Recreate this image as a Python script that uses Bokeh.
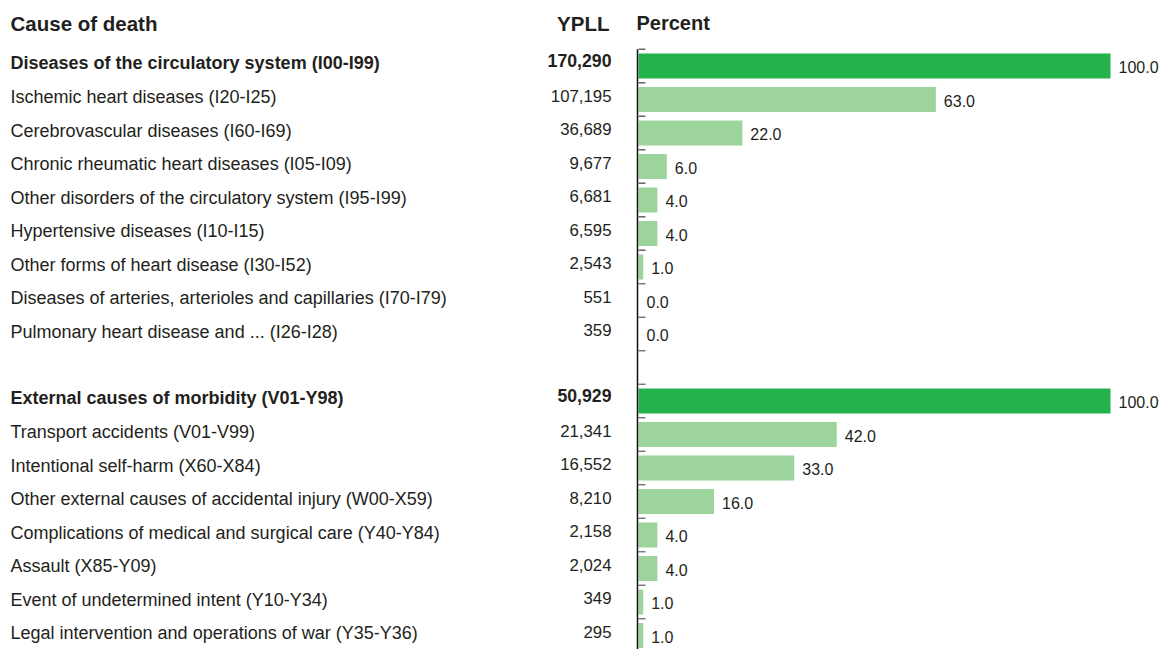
from bokeh.plotting import figure
from bokeh.models import Range1d, ColumnDataSource
from bokeh.core.properties import value
from bokeh.embed import file_html
from bokeh.resources import INLINE

# ---- data ----
header_cause = "Cause of death"
header_ypll = "YPLL"
header_pct = "Percent"

circ_causes = [
    "Diseases of the circulatory system (I00-I99)",
    "Ischemic heart diseases (I20-I25)",
    "Cerebrovascular diseases (I60-I69)",
    "Chronic rheumatic heart diseases (I05-I09)",
    "Other disorders of the circulatory system (I95-I99)",
    "Hypertensive diseases (I10-I15)",
    "Other forms of heart disease (I30-I52)",
    "Diseases of arteries, arterioles and capillaries (I70-I79)",
    "Pulmonary heart disease and ... (I26-I28)",
]
circ_ypll = [170290, 107195, 36689, 9677, 6681, 6595, 2543, 551, 359]
circ_pct = [100.0, 63.0, 22.0, 6.0, 4.0, 4.0, 1.0, 0.0, 0.0]

ext_causes = [
    "External causes of morbidity (V01-Y98)",
    "Transport accidents (V01-V99)",
    "Intentional self-harm (X60-X84)",
    "Other external causes of accidental injury (W00-X59)",
    "Complications of medical and surgical care (Y40-Y84)",
    "Assault (X85-Y09)",
    "Event of undetermined intent (Y10-Y34)",
    "Legal intervention and operations of war (Y35-Y36)",
]
ext_ypll = [50929, 21341, 16552, 8210, 2158, 2024, 349, 295]
ext_pct = [100.0, 42.0, 33.0, 16.0, 4.0, 4.0, 1.0, 1.0]

# ---- layout / style ----
W, H = 1162, 649
PX = 4.72          # pixels per percent
ZERO_X = 638       # canvas x of 0 %
ROW0_Y = 65.5      # canvas y of first row centre
ROW_H = 33.5
FONT = "Liberation Sans"
TXT = "#231f20"
DARK = "#24b24c"
LIGHT = "#9dd49b"


def px2x(px):
    return (px - ZERO_X) / PX


def px2y(py):
    return (py - ROW0_Y) / ROW_H


rows, causes, ypll, pct, total = [], [], [], [], []
groups = [(circ_causes, circ_ypll, circ_pct), (ext_causes, ext_ypll, ext_pct)]
r = 0
for gi, (c, y, v) in enumerate(groups):
    for k in range(len(c)):
        rows.append(r)
        causes.append(c[k])
        ypll.append(y[k])
        pct.append(v[k])
        total.append(k == 0)
        r += 1
    if gi == 0:
        r += 1  # blank row between groups
n_rows = r

src = ColumnDataSource(dict(
    row=rows, cause=causes,
    ypll=[f"{v:,}" for v in ypll],
    pct=pct, pct_lbl=[f"{v:.1f}" for v in pct],
    color=[DARK if t else LIGHT for t in total],
))
idx_tot = [i for i, t in enumerate(total) if t]
idx_sub = [i for i, t in enumerate(total) if not t]


def sub(ix):
    return ColumnDataSource({k: [v[i] for i in ix] for k, v in src.data.items()})


src_tot, src_sub = sub(idx_tot), sub(idx_sub)

p = figure(width=W, height=H,
           x_range=Range1d(px2x(0), px2x(W)),
           y_range=Range1d(px2y(H), px2y(0)),
           output_backend="svg", toolbar_location=None, min_border=0)
p.axis.visible = False
p.grid.visible = False
p.outline_line_color = None

# bars
p.hbar(y="row", left=0, right="pct", height=25 / ROW_H, color="color",
       line_color=None, source=src)

# axis line and ticks
tick_len = 7 / PX
bounds = [i - 0.5 for i in range(n_rows)]
p.segment(x0=[0] * len(bounds), y0=bounds, x1=[tick_len] * len(bounds), y1=bounds,
          line_color="#666666", line_width=1.3)
p.segment(x0=[px2x(ZERO_X - 1)], y0=[-0.5], x1=[px2x(ZERO_X - 1)], y1=[n_rows + 1],
          line_color="#111111", line_width=1.5)

# value labels
p.text(x="pct", y="row", text="pct_lbl", source=src, x_offset=8, y_offset=1,
       text_font=value(FONT), text_font_size="16px", text_color=TXT,
       text_baseline="alphabetic", text_align="left")

# cause labels
p.text(x=px2x(10), y="row", text="cause", source=src_sub, y_offset=-2.5,
       text_font=value(FONT), text_font_size="18px", text_color=TXT,
       text_baseline="alphabetic", text_align="left")
p.text(x=px2x(10), y="row", text="cause", source=src_tot, y_offset=-3.5,
       text_font=value(FONT), text_font_size="18px", text_font_style="bold",
       text_color=TXT, text_baseline="alphabetic", text_align="left")

# YPLL labels
p.text(x=px2x(611), y="row", text="ypll", source=src_sub, y_offset=-4,
       text_font=value(FONT), text_font_size="16.8px", text_color=TXT,
       text_baseline="alphabetic", text_align="right")
p.text(x=px2x(611), y="row", text="ypll", source=src_tot, y_offset=-6,
       text_font=value(FONT), text_font_size="17.7px", text_font_style="bold",
       text_color=TXT, text_baseline="alphabetic", text_align="right")

# headers
hy = px2y(22.5)
p.text(x=[px2x(10)], y=[hy], text=[header_cause], text_font=value(FONT),
       text_font_size="20.5px", text_font_style="bold", text_color=TXT,
       text_baseline="alphabetic", text_align="left")
p.text(x=[px2x(609)], y=[hy], text=[header_ypll], text_font=value(FONT),
       text_font_size="20.5px", text_font_style="bold", text_color=TXT,
       text_baseline="alphabetic", text_align="right")
p.text(x=[px2x(636)], y=[hy], text=[header_pct], text_font=value(FONT),
       text_font_size="20px", text_font_style="bold", text_color=TXT,
       text_baseline="alphabetic", text_align="left")

open("out.html", "w").write(file_html(p, INLINE))
